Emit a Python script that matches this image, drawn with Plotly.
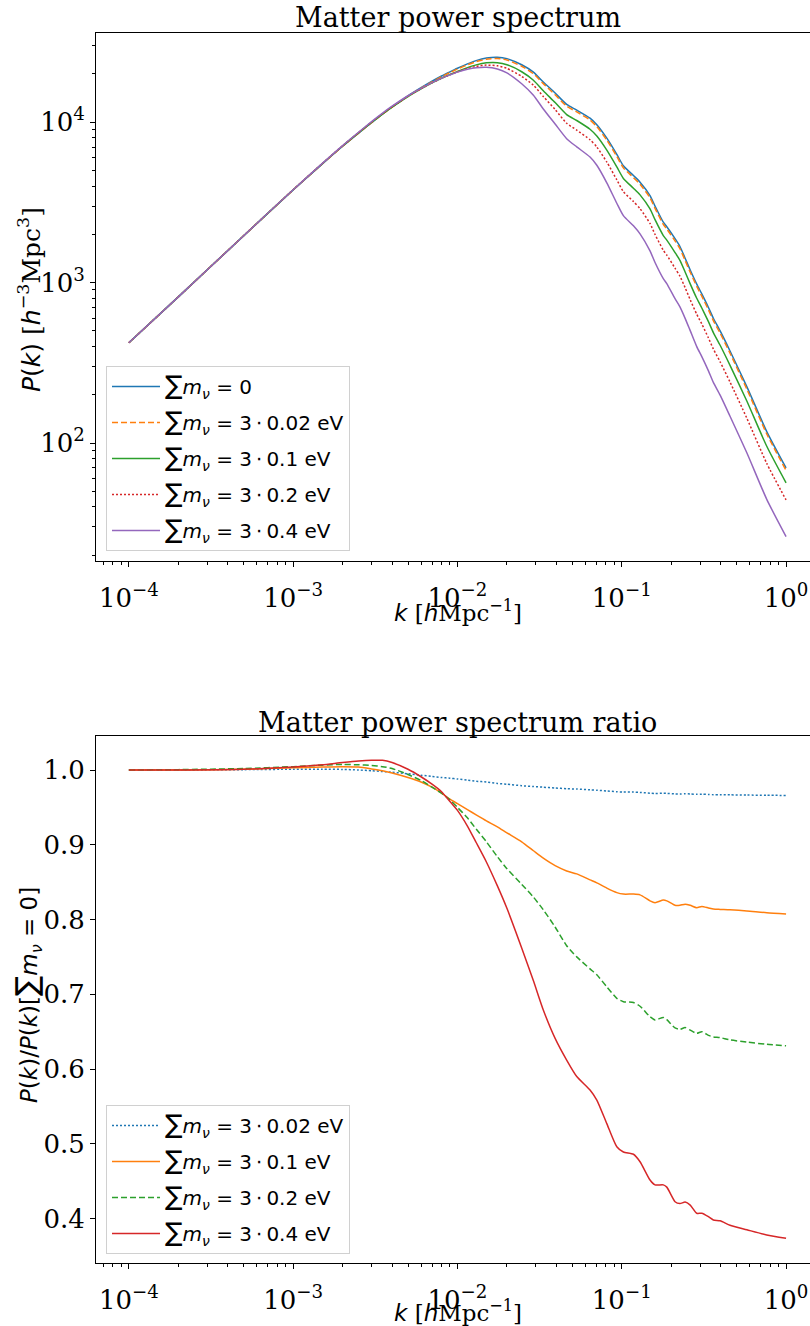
import plotly.graph_objects as go

# ---------------- data ----------------
k_vals = [1e-4, 2e-4, 5e-4, 1e-3, 1.5e-3, 2e-3, 2.5e-3, 3e-3, 3.5e-3, 4e-3,
          5e-3, 6e-3, 7e-3, 8e-3, 9e-3, 0.010, 0.0115, 0.013, 0.015, 0.0175,
          0.020, 0.0246, 0.029, 0.0333, 0.0393, 0.0462, 0.0532, 0.0641, 0.0705, 0.0811,
          0.0933, 0.1023, 0.1178, 0.1292, 0.1486, 0.1594, 0.179, 0.188, 0.211, 0.226,
          0.243, 0.261, 0.286, 0.307, 0.337, 0.361, 0.397, 0.456, 0.577, 0.763, 1.0]

# Matter power spectrum P(k) [h^-3 Mpc^3]
P_m0 = [422, 815, 1960, 3780, 5480, 7080, 8550, 9950, 11250, 12450,
        14600, 16400, 18000, 19400, 20600, 21700, 23100, 24200, 25100, 25400,
        24900, 22800, 20500, 17800, 15200, 12900, 11900, 10600, 9650, 7950,
        6300, 5350, 4650, 4230, 3490, 3000, 2380, 2230, 1880, 1680,
        1420, 1200, 980, 850, 700, 600, 500, 375, 225, 118, 70]
P_m002 = [422, 815, 1961, 3784, 5485, 7086, 8550, 9940, 11228, 12413,
          14527, 16285, 17847, 19206, 20373, 21440, 22788, 23837, 24698, 24943,
          24427, 22321, 20049, 17391, 14835, 12578, 11597, 10319, 9389, 7727,
          6117, 5192, 4513, 4103, 3382, 2906, 2306, 2160, 1820, 1626,
          1375, 1162, 948, 823, 677, 580, 484, 363, 217, 114, 67.6]
P_m01 = [422, 815, 1962, 3791, 5502, 7112, 8584, 9965, 11239, 12400,
         14454, 16138, 17586, 18799, 19797, 20724, 21876, 22772, 23443, 23495,
         22833, 20634, 18266, 15700, 13254, 11159, 10246, 9042, 8193, 6694,
         5267, 4462, 3878, 3524, 2879, 2468, 1966, 1840, 1540, 1376,
         1165, 983, 799, 695, 571, 488, 407, 305, 183, 95.5, 56.5]
P_m02 = [422, 815, 1964, 3797, 5516, 7133, 8610, 10010, 11301, 12475,
         14512, 16170, 17586, 18799, 19776, 20615, 21622, 22288, 22690, 22454,
         21663, 19312, 17015, 14471, 12008, 9843, 8925, 7780, 7006, 5645,
         4376, 3692, 3204, 2893, 2338, 1997, 1592, 1485, 1231, 1097,
         931, 782, 635, 553, 452, 386, 321, 240, 143, 74.7, 44.2]
P_m04 = [422, 815, 1962, 3795, 5518, 7151, 8653, 10079, 11396, 12575,
         14615, 16252, 17658, 18837, 19735, 20528, 21368, 21853, 22013, 21463,
         20294, 17374, 14719, 12086, 9743, 7895, 7021, 6063, 5390, 4190,
         3125, 2616, 2260, 2013, 1576, 1335, 1059, 986, 794, 706,
         599, 502, 399, 346, 282, 239, 199, 147, 87, 44.6, 26.1]

# Ratio P(k) / P(k)[sum m_nu = 0]
R_m002 = [1.000, 1.000, 1.0005, 1.001, 1.001, 1.0008, 1.000, 0.999, 0.998, 0.997,
          0.995, 0.993, 0.9915, 0.990, 0.989, 0.988, 0.9865, 0.985, 0.984, 0.982,
          0.981, 0.979, 0.978, 0.977, 0.976, 0.975, 0.9745, 0.9735, 0.973, 0.972,
          0.971, 0.9705, 0.9705, 0.970, 0.969, 0.9685, 0.969, 0.9688, 0.968, 0.968,
          0.9682, 0.968, 0.9675, 0.9677, 0.9673, 0.967, 0.967, 0.9668, 0.9665, 0.9662, 0.966]
R_m01 = [1.000, 1.000, 1.001, 1.003, 1.004, 1.0045, 1.004, 1.0015, 0.999, 0.996,
         0.990, 0.984, 0.977, 0.969, 0.961, 0.955, 0.947, 0.940, 0.932, 0.924,
         0.916, 0.904, 0.892, 0.882, 0.872, 0.865, 0.861, 0.853, 0.849, 0.842,
         0.836, 0.834, 0.834, 0.833, 0.825, 0.8225, 0.826, 0.825, 0.819, 0.819,
         0.8205, 0.819, 0.8158, 0.8175, 0.8155, 0.814, 0.8135, 0.813, 0.8115, 0.809, 0.8075]
R_m02 = [1.000, 1.0005, 1.002, 1.0045, 1.0065, 1.0075, 1.007, 1.006, 1.0045, 1.002,
         0.994, 0.986, 0.977, 0.969, 0.960, 0.950, 0.936, 0.921, 0.904, 0.884,
         0.868, 0.847, 0.830, 0.813, 0.790, 0.765, 0.750, 0.734, 0.726, 0.710,
         0.6946, 0.690, 0.689, 0.684, 0.670, 0.6656, 0.669, 0.666, 0.655, 0.653,
         0.6555, 0.652, 0.6477, 0.650, 0.645, 0.643, 0.642, 0.639, 0.636, 0.633, 0.631]
R_m04 = [1.000, 1.000, 1.001, 1.004, 1.007, 1.010, 1.012, 1.013, 1.013, 1.010,
         1.001, 0.991, 0.981, 0.971, 0.958, 0.946, 0.925, 0.903, 0.877, 0.845,
         0.815, 0.762, 0.718, 0.679, 0.641, 0.612, 0.590, 0.572, 0.5585, 0.527,
         0.496, 0.489, 0.486, 0.476, 0.4515, 0.445, 0.445, 0.442, 0.4225, 0.420,
         0.422, 0.418, 0.407, 0.407, 0.4024, 0.398, 0.397, 0.391, 0.385, 0.378, 0.3735]

x_major = [1e-4, 1e-3, 1e-2, 1e-1, 1e0]
x_major_text = ["10<sup>−4</sup>", "10<sup>−3</sup>", "10<sup>−2</sup>", "10<sup>−1</sup>", "10<sup>0</sup>"]
y1_major = [1e2, 1e3, 1e4]
y1_major_text = ["10<sup>2</sup>", "10<sup>3</sup>", "10<sup>4</sup>"]
y2_major = [0.4, 0.5, 0.6, 0.7, 0.8, 0.9, 1.0]
y2_major_text = ["0.4", "0.5", "0.6", "0.7", "0.8", "0.9", "1.0"]

x_minor = [m * 10.0 ** e for e in range(-5, 1) for m in range(2, 10)]
y1_minor = [m * 10.0 ** e for e in range(1, 5) for m in range(2, 10)]

# ---------------- styling ----------------
C = ["#1f77b4", "#ff7f0e", "#2ca02c", "#d62728", "#9467bd"]
SUM = "<span style='font-size:26px'>∑</span>"
def lab(s):
    return SUM + "<i>m</i><sub><i>ν</i></sub> = " + s

SERIF = "DejaVu Serif"
SANS = "DejaVu Sans"
TICKFONT = dict(family=SERIF, size=26, color="black")

W, H = 810, 1326
ML, MR, MT, MB = 96, 0, 33, 63
PW = W - ML - MR
PH = H - MT - MB
def py(ypx):
    return (H - MB - ypx) / PH
def px(xpx):
    return (xpx - ML) / PW

fig = go.Figure()

top = [(P_m0, lab("0"), C[0], "solid"),
       (P_m002, lab("3\u2009⋅\u20090.02 eV"), C[1], "6px,3px"),
       (P_m01, lab("3\u2009⋅\u20090.1 eV"), C[2], "solid"),
       (P_m02, lab("3\u2009⋅\u20090.2 eV"), C[3], "2px,2px"),
       (P_m04, lab("3\u2009⋅\u20090.4 eV"), C[4], "solid")]
for i, (yv, name, col, dash) in enumerate(top):
    fig.add_trace(go.Scatter(x=k_vals, y=yv, name=name, mode="lines",
                             line=dict(color=col, width=1.5, dash=dash, shape="spline", smoothing=0.6),
                             xaxis="x", yaxis="y", legend="legend", legendgroup="t%d" % i))

bot = [(R_m002, lab("3\u2009⋅\u20090.02 eV"), C[0], "2px,2px"),
       (R_m01, lab("3\u2009⋅\u20090.1 eV"), C[1], "solid"),
       (R_m02, lab("3\u2009⋅\u20090.2 eV"), C[2], "6px,3px"),
       (R_m04, lab("3\u2009⋅\u20090.4 eV"), C[3], "solid")]
for i, (yv, name, col, dash) in enumerate(bot):
    fig.add_trace(go.Scatter(x=k_vals, y=yv, name=name, mode="lines",
                             line=dict(color=col, width=1.5, dash=dash, shape="spline", smoothing=0.6),
                             xaxis="x2", yaxis="y2", legend="legend2", legendgroup="b%d" % i))

xr = [-4.2, -4.2 + PW / 164.3]
axcommon = dict(showline=True, linecolor="black", linewidth=1, ticks="outside", ticklen=5,
                tickwidth=1, tickcolor="black", showgrid=False, zeroline=False, tickfont=TICKFONT)
minor_common = dict(ticks="outside", ticklen=3, tickwidth=1, tickcolor="black", showgrid=False)

legend_common = dict(xanchor="left", yanchor="bottom", bgcolor="rgba(255,255,255,0.8)",
                     bordercolor="#d0d0d0", borderwidth=1, itemwidth=48,
                     font=dict(family=SANS, size=20, color="black"), tracegroupgap=7)

fig.update_layout(
    width=W, height=H, margin=dict(l=ML, r=MR, t=MT, b=MB, autoexpand=False),
    paper_bgcolor="white", plot_bgcolor="white", showlegend=True,
    xaxis=dict(type="log", range=xr, anchor="y", domain=[0, 1], mirror=True, ticklabelstandoff=9,
               tickmode="array", tickvals=x_major, ticktext=x_major_text,
               minor=dict(tickmode="array", tickvals=x_minor, **minor_common), **axcommon),
    yaxis=dict(type="log", range=[1.265, 4.556], anchor="x", domain=[py(561), 1],
               tickmode="array", tickvals=y1_major, ticktext=y1_major_text,
               minor=dict(tickmode="array", tickvals=y1_minor, **minor_common), **axcommon),
    xaxis2=dict(type="log", range=xr, anchor="y2", domain=[0, 1], mirror=True, ticklabelstandoff=9,
                tickmode="array", tickvals=x_major, ticktext=x_major_text,
                minor=dict(tickmode="array", tickvals=x_minor, **minor_common), **axcommon),
    yaxis2=dict(range=[0.3405, 1.0455], anchor="x2", domain=[0, py(736)],
                tickmode="array", tickvals=y2_major, ticktext=y2_major_text, **axcommon),
    legend=dict(x=px(106), y=py(551), **legend_common),
    legend2=dict(x=px(106), y=py(1254), **legend_common),
)

IK = "<span style='font-family:DejaVu Sans'><i>k</i></span>"
IH = "<span style='font-family:DejaVu Sans'><i>h</i></span>"
xlabel = IK + " [" + IH + "Mpc<sup>−1</sup>]"
ann = [
    dict(text="Matter power spectrum", x=px(457.5), y=py(17), font=dict(family=SERIF, size=27)),
    dict(text="Matter power spectrum ratio", x=px(457.5), y=py(722), font=dict(family=SERIF, size=27)),
    dict(text=xlabel, x=px(457.5), y=py(611), font=dict(family=SERIF, size=23)),
    dict(text=xlabel, x=px(457.5), y=py(1311), font=dict(family=SERIF, size=23)),
    dict(text="<span style='font-family:DejaVu Sans'><i>P</i>(<i>k</i>)</span> [" + IH +
              "<sup>−3</sup>Mpc<sup>3</sup>]", x=px(30), y=py(300), textangle=-90,
         font=dict(family=SERIF, size=25)),
    dict(text="<i>P</i>(<i>k</i>)/<i>P</i>(<i>k</i>)[<span style='font-size:30px'>∑</span><i>m</i><sub><i>ν</i></sub> = 0]",
         x=px(27), y=py(995), textangle=-90, font=dict(family=SANS, size=23)),
]
for a in ann:
    fig.add_annotation(xref="paper", yref="paper", showarrow=False, xanchor="center", yanchor="middle",
                       font_color="black", **{k: v for k, v in a.items()})

fig.write_html("out.html")
